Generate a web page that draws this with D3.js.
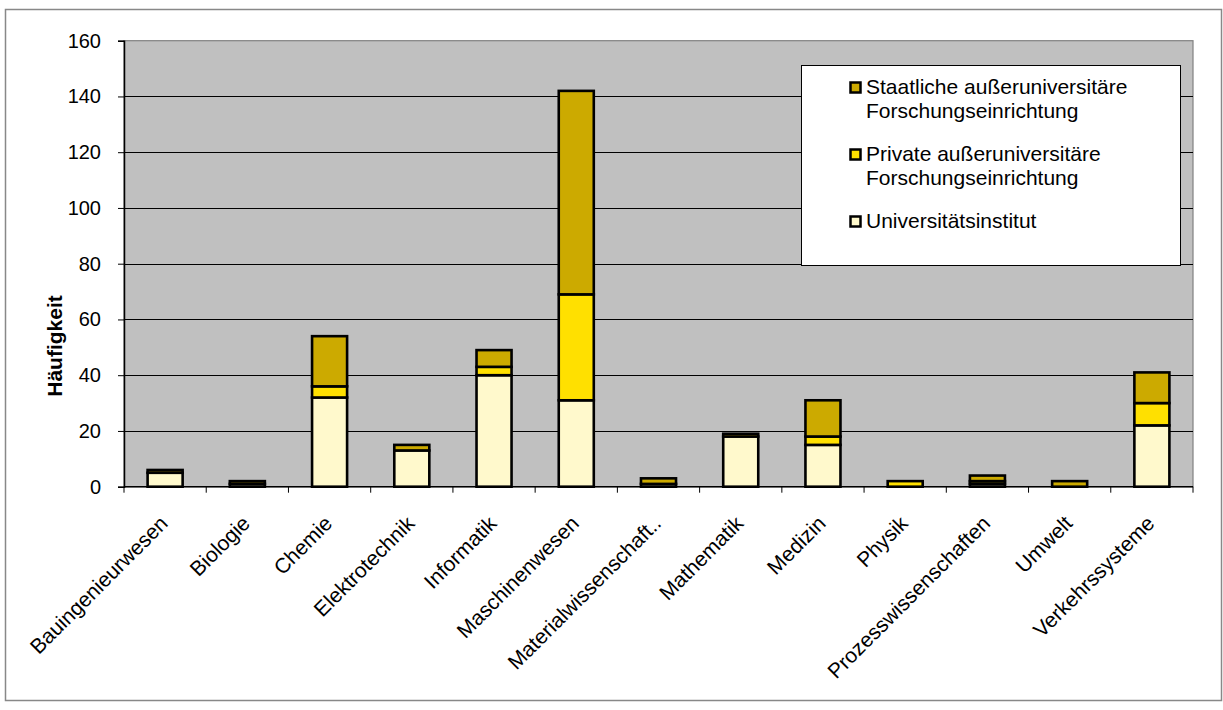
<!DOCTYPE html>
<html>
<head>
<meta charset="utf-8">
<script src="https://cdn.jsdelivr.net/npm/d3@7"></script>
<style>
  html, body { margin: 0; padding: 0; background: #fff; }
  svg { display: block; font-family: "Liberation Sans", Arial, sans-serif; }
</style>
</head>
<body>
<svg id="chart" width="1223" height="710"></svg>
<script>
// Fachgebiete
const categories = [
  "Bauingenieurwesen", "Biologie", "Chemie", "Elektrotechnik", "Informatik",
  "Maschinenwesen", "Materialwissenschaft..", "Mathematik", "Medizin", "Physik",
  "Prozesswissenschaften", "Umwelt", "Verkehrssysteme"
];
// Häufigkeit je Einrichtungstyp
const universitaet = [5, 1, 32, 13, 40, 31, 1, 18, 15, 0, 1, 0, 22];
const privat       = [0, 0, 4, 0, 3, 38, 0, 0, 3, 2, 1, 0, 8];
const staatlich    = [1, 1, 18, 2, 6, 73, 2, 1, 13, 0, 2, 2, 11];
const seriesNames = [
  "Universitätsinstitut",
  "Private außeruniversitäre Forschungseinrichtung",
  "Staatliche außeruniversitäre Forschungseinrichtung"
];
const yTicks = [0, 20, 40, 60, 80, 100, 120, 140, 160];
const yLabel = "Häufigkeit";

const colors = ["#FFF9CC", "#FFE000", "#CCAA00"];

const svg = d3.select("#chart");
const plot = { left: 124, top: 40.7, right: 1193, bottom: 486.7 };

// outer frame
svg.append("rect")
  .attr("x", 5.5).attr("y", 9.5).attr("width", 1216).attr("height", 691)
  .attr("fill", "#fff").attr("stroke", "#888").attr("stroke-width", 1.5);

const x = d3.scaleBand().domain(categories)
  .range([plot.left, plot.right]).paddingInner(0.574).paddingOuter(0.287);
const xOuter = d3.scaleBand().domain(categories).range([plot.left, plot.right]);
const y = d3.scaleLinear().domain([0, 160]).range([plot.bottom, plot.top]);

// plot background
svg.append("rect")
  .attr("x", plot.left).attr("y", plot.top)
  .attr("width", plot.right - plot.left).attr("height", plot.bottom - plot.top)
  .attr("fill", "#C0C0C0").attr("stroke", "#808080").attr("stroke-width", 1.2);

// gridlines
svg.append("g").selectAll("line").data(yTicks.filter(d => d > 0 && d < 160)).join("line")
  .attr("x1", plot.left).attr("x2", plot.right)
  .attr("y1", d => Math.round(y(d)) + 0.5).attr("y2", d => Math.round(y(d)) + 0.5)
  .attr("stroke", "#000").attr("stroke-width", 1);

// stacked bars
const rows = categories.map((c, i) => ({ cat: c, u: universitaet[i], p: privat[i], s: staatlich[i] }));
const stack = d3.stack().keys(["u", "p", "s"])(rows);
svg.append("g").selectAll("g").data(stack).join("g")
  .attr("fill", (d, i) => colors[i])
  .selectAll("rect").data(d => d.filter(v => v[1] - v[0] > 0)).join("rect")
  .attr("x", d => x(d.data.cat))
  .attr("width", x.bandwidth())
  .attr("y", d => y(d[1]))
  .attr("height", d => y(d[0]) - y(d[1]))
  .attr("stroke", "#000").attr("stroke-width", 2.6);

// y axis
const yAxis = d3.axisLeft(y).tickValues(yTicks).tickSize(6).tickPadding(17);
const gy = svg.append("g").attr("transform", `translate(${plot.left},0)`).call(yAxis);
gy.select(".domain").attr("stroke", "#000").attr("stroke-width", 1.5);
gy.selectAll(".tick line").attr("stroke", "#000");
gy.selectAll(".tick text").attr("font-size", 20).attr("fill", "#000")
  .attr("font-family", "'Liberation Sans', Arial, sans-serif");

// x axis
const gx = svg.append("g").attr("transform", `translate(0,${plot.bottom})`);
gx.append("line").attr("x1", plot.left).attr("x2", plot.right)
  .attr("stroke", "#000").attr("stroke-width", 1.5);
const boundaries = categories.map(c => xOuter(c)).concat([plot.right]);
gx.selectAll("line.tk").data(boundaries).join("line").attr("class", "tk")
  .attr("x1", d => d).attr("x2", d => d).attr("y1", 0).attr("y2", 6)
  .attr("stroke", "#000");
gx.selectAll("text").data(categories).join("text")
  .attr("transform", d => `translate(${xOuter(d) + xOuter.bandwidth() / 2 + 4},${38}) rotate(-45)`)
  .attr("text-anchor", "end")
  .attr("font-size", 21).attr("fill", "#000")
  .text(d => d);

// y axis title
svg.append("text")
  .attr("transform", "translate(62,346) rotate(-90)")
  .attr("text-anchor", "middle").attr("font-size", 21).attr("font-weight", "bold")
  .text(yLabel);

// legend (top entry = top segment)
const legend = svg.append("g");
legend.append("rect").attr("x", 801.5).attr("y", 65.5).attr("width", 379).attr("height", 200)
  .attr("fill", "#fff").attr("stroke", "#000").attr("stroke-width", 1);
const legendItems = [
  { name: seriesNames[2], color: colors[2], lines: ["Staatliche außeruniversitäre", "Forschungseinrichtung"], y: 94 },
  { name: seriesNames[1], color: colors[1], lines: ["Private außeruniversitäre", "Forschungseinrichtung"], y: 161 },
  { name: seriesNames[0], color: colors[0], lines: ["Universitätsinstitut"], y: 228 }
];
legendItems.forEach(it => {
  legend.append("rect").attr("x", 850.5).attr("y", it.y - 11.5).attr("width", 10).attr("height", 10)
    .attr("fill", it.color).attr("stroke", "#000").attr("stroke-width", 2.5);
  const t = legend.append("text").attr("x", 866).attr("y", it.y).attr("font-size", 21);
  it.lines.forEach((l, k) => {
    t.append("tspan").attr("x", 866).attr("dy", k === 0 ? 0 : 23.5).text(l);
  });
});
</script>
</body>
</html>
